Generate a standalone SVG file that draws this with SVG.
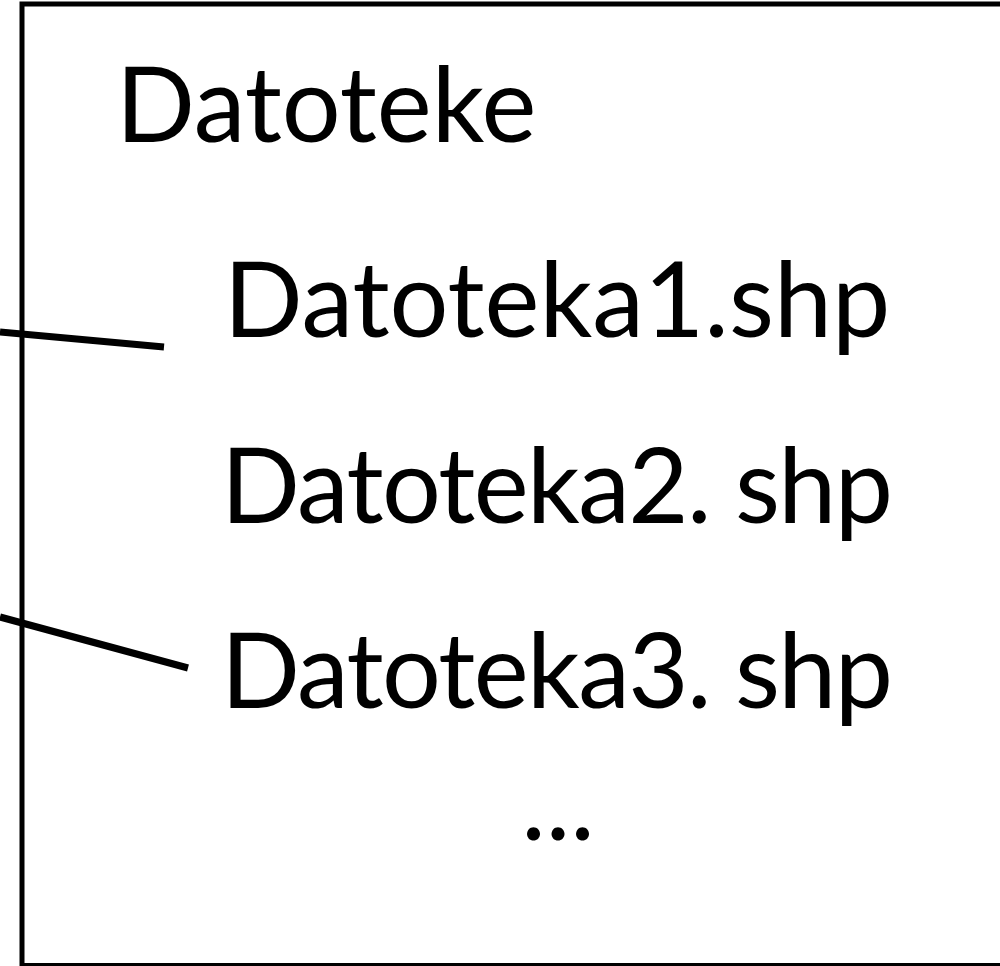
<svg xmlns="http://www.w3.org/2000/svg" width="1000" height="966" viewBox="0 0 1000 966">
<style>
.t{font-family:"Lato","Open Sans","Liberation Sans",sans-serif;font-size:104px;fill:#000}
.c{stroke:#000;stroke-width:7;fill:none}
</style>
<rect width="1000" height="966" fill="#fff"/>
<g id="frame"><rect x="22" y="4" width="1010" height="961.5" fill="none" stroke="#000" stroke-width="5"/></g>
<g id="title"><text class="t" x="116" y="142">Datoteke</text></g>
<g id="file1"><text class="t" x="557" y="337" text-anchor="middle">Datoteka1.shp</text></g>
<g id="file2"><text class="t" x="557" y="523" text-anchor="middle" textLength="672">Datoteka2. shp</text></g>
<g id="file3"><text class="t" x="557" y="708" text-anchor="middle" textLength="672">Datoteka3. shp</text></g>
<g id="more"><text class="t" x="558" y="840" text-anchor="middle">...</text></g>
<g id="connectors">
<line class="c" x1="0" y1="332" x2="164" y2="347"/>
<line class="c" x1="0" y1="617" x2="188" y2="668"/>
</g>
</svg>
